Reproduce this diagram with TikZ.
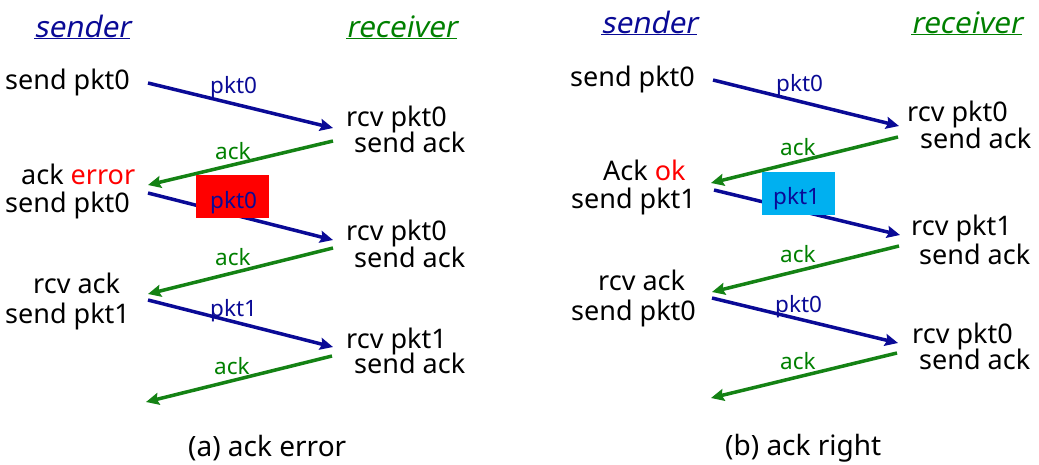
\documentclass[tikz,border=0pt]{standalone}
\usepackage{fontspec}
\setmainfont{Noto Sans}
\newfontfamily\slfont[FakeSlant=0.2]{Noto Sans}
\usetikzlibrary{arrows.meta}
\definecolor{pblue}{RGB}{10,10,150}
\definecolor{pgreen}{RGB}{20,130,20}
\definecolor{tgreen}{RGB}{0,128,0}
\definecolor{cyanbox}{RGB}{0,176,240}
\begin{document}
\begin{tikzpicture}[x=1pt,y=-1pt,
  lbl/.style={anchor=base west,inner sep=0pt,font=\fontsize{27}{32}\selectfont},
  albl/.style={anchor=base west,inner sep=0pt,font=\fontsize{22.5}{26}\selectfont},
  ttl/.style={anchor=base west,inner sep=0pt,font=\slfont\fontsize{29.5}{34}\selectfont},
  captxt/.style={anchor=base west,inner sep=0pt,font=\fontsize{28}{33}\selectfont},
  pkt/.style={draw=pblue,line width=3.5pt,-{Stealth[length=13pt,width=12pt,inset=2pt]}},
  ackarr/.style={draw=pgreen,line width=3.5pt,-{Stealth[length=13pt,width=12pt,inset=2pt]}}
]
\useasboundingbox (0,0) rectangle (1039,464);
\fill[white] (0,0) rectangle (1039,464);

% ================= left panel =================
\node[ttl,text=pblue] (sA) at (34,37) {\underline{sender}};
\node[ttl,text=tgreen] (rA) at (346,37) {\underline{receiver}};

\coordinate (a1s) at (148,83);  \coordinate (a1e) at (333,128);
\coordinate (a2s) at (333,141); \coordinate (a2e) at (148,185);
\coordinate (a3s) at (148,193); \coordinate (a3e) at (333,240);
\coordinate (a4s) at (333,248); \coordinate (a4e) at (148,294);
\coordinate (a5s) at (148,300); \coordinate (a5e) at (333,347);
\coordinate (a6s) at (332,356); \coordinate (a6e) at (146,402);

\draw[pkt] (a1s) -- (a1e);
\draw[ackarr] (a2s) -- (a2e);
\draw[pkt] (a3s) -- (a3e);
\draw[ackarr] (a4s) -- (a4e);
\draw[pkt] (a5s) -- (a5e);
\draw[ackarr] (a6s) -- (a6e);

\fill[red] (196,175) rectangle (269,218);

\node[lbl] (l1) at (5,89) {send pkt0};
\node[lbl] (l2) at (346,126) {rcv pkt0};
\node[lbl] (l3) at (354,152) {send ack};
\node[lbl] (l4) at (21,184) {ack \textcolor{red}{error}};
\node[lbl] (l5) at (5,212) {send pkt0};
\node[lbl] (l6) at (346,240) {rcv pkt0};
\node[lbl] (l7) at (354,267) {send ack};
\node[lbl] (l8) at (33,293) {rcv ack};
\node[lbl] (l9) at (5,323) {send pkt1};
\node[lbl] (l10) at (346,348) {rcv pkt1};
\node[lbl] (l11) at (354,373) {send ack};

\node[albl,text=pblue] (m1) at (210,93) {pkt0};
\node[albl,text=tgreen] (m2) at (215,159) {ack};
\node[albl,text=pblue] (m3) at (210,208) {pkt0};
\node[albl,text=tgreen] (m4) at (215,265) {ack};
\node[albl,text=pblue] (m5) at (210,316) {pkt1};
\node[albl,text=tgreen] (m6) at (214,374) {ack};

\node[captxt] (capA) at (188,456) {(a) ack error};

% ================= right panel =================
\node[ttl,text=pblue] (sB) at (601,33) {\underline{sender}};
\node[ttl,text=tgreen] (rB) at (911,33) {\underline{receiver}};

\coordinate (b1s) at (713,80);  \coordinate (b1e) at (899,126);
\coordinate (b2s) at (898,137); \coordinate (b2e) at (711,183);
\coordinate (b3s) at (714,190); \coordinate (b3e) at (900,235);
\coordinate (b4s) at (899,246); \coordinate (b4e) at (712,292);
\coordinate (b5s) at (712,298); \coordinate (b5e) at (898,343);
\coordinate (b6s) at (897,353); \coordinate (b6e) at (711,398);

\draw[pkt] (b1s) -- (b1e);
\draw[ackarr] (b2s) -- (b2e);
\draw[pkt] (b3s) -- (b3e);
\draw[ackarr] (b4s) -- (b4e);
\draw[pkt] (b5s) -- (b5e);
\draw[ackarr] (b6s) -- (b6e);

\fill[cyanbox] (762,172) rectangle (835,215);

\node[lbl] (r1) at (570,86) {send pkt0};
\node[lbl] (r2) at (907,121) {rcv pkt0};
\node[lbl] (r3) at (920,148) {send ack};
\node[lbl] (r4) at (603,180) {Ack \textcolor{red}{ok}};
\node[lbl] (r5) at (571,208) {send pkt1};
\node[lbl] (r6) at (911,235) {rcv pkt1};
\node[lbl] (r7) at (919,264) {send ack};
\node[lbl] (r8) at (598,290) {rcv ack};
\node[lbl] (r9) at (571,320) {send pkt0};
\node[lbl] (r10) at (912,343) {rcv pkt0};
\node[lbl] (r11) at (919,369) {send ack};

\node[albl,text=pblue] (n1) at (776,91) {pkt0};
\node[albl,text=tgreen] (n2) at (780,155) {ack};
\node[albl,text=pblue] (n3) at (773,204) {pkt1};
\node[albl,text=tgreen] (n4) at (780,262) {ack};
\node[albl,text=pblue] (n5) at (775,312) {pkt0};
\node[albl,text=tgreen] (n6) at (780,369) {ack};

\node[captxt] (capB) at (725,455) {(b) ack right};
\end{tikzpicture}
\end{document}
